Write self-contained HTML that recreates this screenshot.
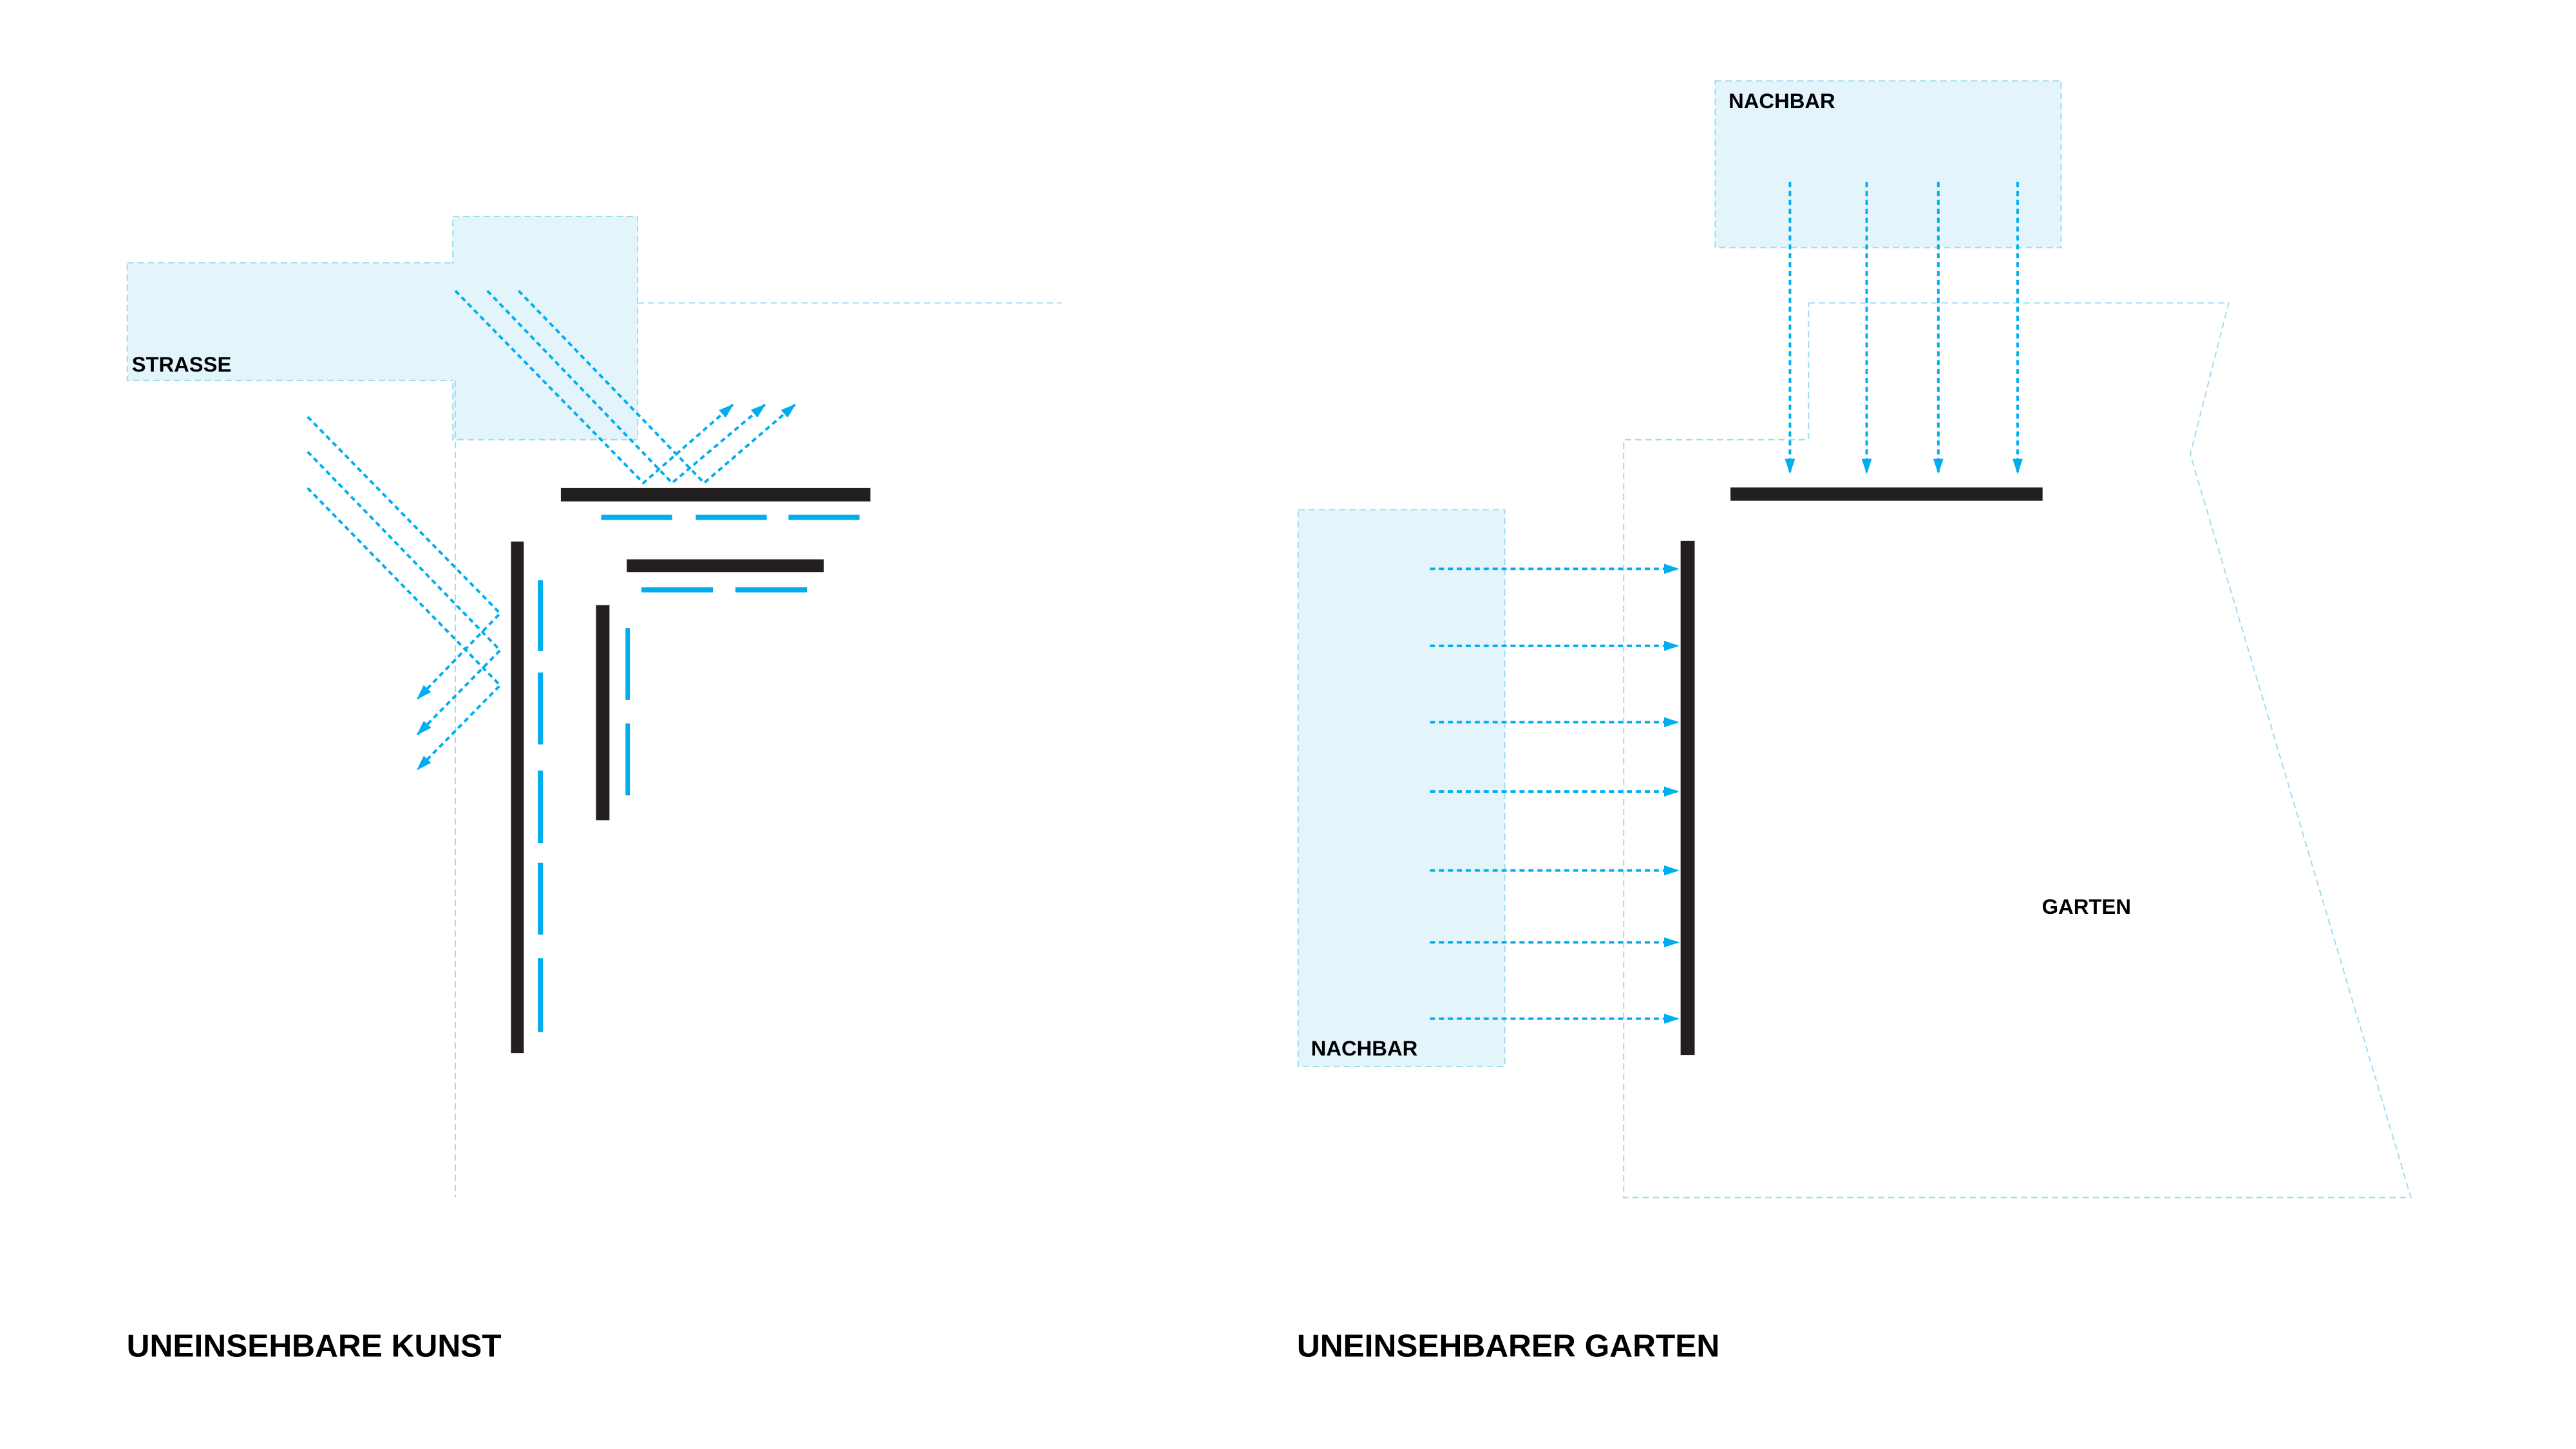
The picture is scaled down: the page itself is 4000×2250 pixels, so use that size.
<!DOCTYPE html>
<html><head><meta charset="utf-8"><style>
html,body{margin:0;padding:0;background:#fff;}
svg{display:block;}
text{font-family:"Liberation Sans",Arial,sans-serif;font-weight:bold;fill:#000;}
</style></head><body>
<svg width="4000" height="2250" viewBox="0 0 4000 2250" xmlns="http://www.w3.org/2000/svg">
<defs>
<marker id="ah" markerWidth="6" markerHeight="4" refX="5.5" refY="2" orient="auto" markerUnits="strokeWidth">
<path d="M0,0 L6,2 L0,4 Z" fill="#00aeef"/>
</marker>
</defs>
<g transform="matrix(0.993,0,0,0.988,6,4)">
<g fill="#e3f5fb" stroke="#9fdcee" stroke-width="2" stroke-dasharray="10 6">
<rect x="193" y="409" width="509" height="185"/>
<rect x="702" y="336" width="289" height="351"/>
<rect x="2676" y="123" width="541" height="262"/>
<rect x="2024" y="797" width="323" height="875"/>
</g>
<rect x="195" y="411" width="510" height="181" fill="#e3f5fb"/>
<g fill="none" stroke="#9fdcee" stroke-width="2" stroke-dasharray="10 6">
<line x1="991" y1="472" x2="1654" y2="472"/>
<line x1="706" y1="594" x2="706" y2="1878"/>
<polyline points="2822,472 3479,472 3419,710 3764,1878 2533,1878 2533,687 2822,687 2822,472"/>
</g>
<g fill="#231f20">
<rect x="871" y="763" width="484" height="21"/>
<rect x="974" y="875" width="308" height="20"/>
<rect x="793" y="847" width="20" height="804"/>
<rect x="926" y="947" width="21" height="338"/>
<rect x="2700" y="762" width="488" height="21"/>
<rect x="2622" y="846" width="22" height="808"/>
</g>
<g fill="#00aeef">
<rect x="934" y="805" width="111" height="8"/>
<rect x="1082" y="805" width="111" height="8"/>
<rect x="1227" y="805" width="111" height="8"/>
<rect x="997" y="919" width="112" height="8"/>
<rect x="1144" y="919" width="112" height="8"/>
<rect x="835" y="908" width="8" height="111"/>
<rect x="835" y="1053" width="8" height="113"/>
<rect x="835" y="1207" width="8" height="114"/>
<rect x="835" y="1352" width="8" height="113"/>
<rect x="835" y="1502" width="8" height="116"/>
<rect x="972" y="983" width="7" height="113"/>
<rect x="972" y="1133" width="7" height="113"/>
</g>
<g fill="none" stroke="#00aeef" stroke-width="4" stroke-dasharray="8 6">
<polyline points="706,453 1000,755 1140,632" marker-end="url(#ah)"/>
<polyline points="756,453 1045,755 1190,632" marker-end="url(#ah)"/>
<polyline points="805,453 1095,755 1237,632" marker-end="url(#ah)"/>
<polyline points="475,651 776,960 647,1094" marker-end="url(#ah)"/>
<polyline points="475,706 776,1018 647,1150" marker-end="url(#ah)"/>
<polyline points="475,763 776,1073 647,1205" marker-end="url(#ah)"/>
<line x1="2793" y1="282" x2="2793" y2="739" marker-end="url(#ah)"/>
<line x1="2913" y1="282" x2="2913" y2="739" marker-end="url(#ah)"/>
<line x1="3025" y1="282" x2="3025" y2="739" marker-end="url(#ah)"/>
<line x1="3149" y1="282" x2="3149" y2="739" marker-end="url(#ah)"/>
<line x1="2230" y1="890" x2="2618" y2="890" marker-end="url(#ah)"/>
<line x1="2230" y1="1011" x2="2618" y2="1011" marker-end="url(#ah)"/>
<line x1="2230" y1="1131" x2="2618" y2="1131" marker-end="url(#ah)"/>
<line x1="2230" y1="1240" x2="2618" y2="1240" marker-end="url(#ah)"/>
<line x1="2230" y1="1364" x2="2618" y2="1364" marker-end="url(#ah)"/>
<line x1="2230" y1="1477" x2="2618" y2="1477" marker-end="url(#ah)"/>
<line x1="2230" y1="1597" x2="2618" y2="1597" marker-end="url(#ah)"/>
</g>
<text x="200" y="580" font-size="33">STRASSE</text>
<text x="2697" y="166" font-size="33">NACHBAR</text>
<text x="2044" y="1655" font-size="33">NACHBAR</text>
<text x="3187" y="1432" font-size="33">GARTEN</text>
<text x="192" y="2128" font-size="50">UNEINSEHBARE KUNST</text>
<text x="2022" y="2128" font-size="50">UNEINSEHBARER GARTEN</text>
</g>
</svg>
</body></html>
